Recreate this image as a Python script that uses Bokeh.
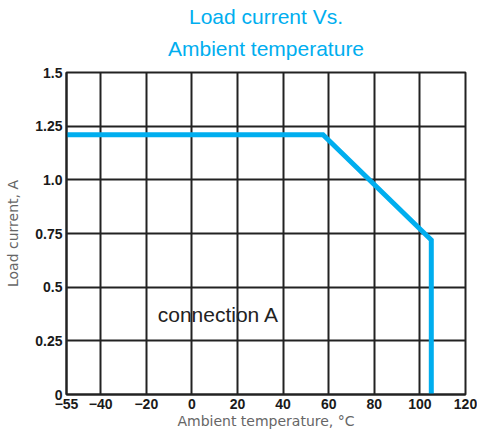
from bokeh.plotting import figure
from bokeh.models import Range1d, FixedTicker, Label, Title
from bokeh.embed import file_html
from bokeh.resources import INLINE

# Data
temperature = [-55, 57.5, 105, 105]
load_current = [1.21, 1.21, 0.72, 0.0]

x_ticks = [-55, -40, -20, 0, 20, 40, 60, 80, 100, 120]
x_tick_labels = ["\u221255", "\u221240", "\u221220", "0", "20", "40", "60", "80", "100", "120"]
y_ticks = [0, 0.25, 0.5, 0.75, 1.0, 1.25, 1.5]
y_tick_labels = ["0", "0.25", "0.5", "0.75", "1.0", "1.25", "1.5"]

title_lines = ["Load current Vs.", "Ambient temperature"]
x_title = "Ambient temperature, \u00b0C"
y_title = "Load current, A"
note = "connection A"

BLUE = "#00aeef"
GRID = "#222222"

p = figure(frame_width=399, frame_height=322,
           min_border_left=66, min_border_right=12,
           min_border_top=72, min_border_bottom=30,
           x_range=Range1d(-55, 120), y_range=Range1d(0, 1.5),
           output_backend="svg", toolbar_location=None, title=None)

p.background_fill_color = "white"
p.border_fill_color = "white"
p.outline_line_color = GRID
p.outline_line_width = 2

for ax, ticks, labels in ((p.xaxis[0], x_ticks, x_tick_labels), (p.yaxis[0], y_ticks, y_tick_labels)):
    ax.ticker = FixedTicker(ticks=ticks)
    ax.major_label_overrides = {t: l for t, l in zip(ticks, labels)}
    ax.major_tick_in = 0
    ax.major_tick_out = 0
    ax.minor_tick_in = 0
    ax.minor_tick_out = 0
    ax.axis_line_color = GRID
    ax.axis_line_width = 2
    ax.major_label_text_font = "Liberation Sans"
    ax.major_label_text_font_size = "14px"
    ax.major_label_text_font_style = "bold"
    ax.major_label_text_color = "#1a1a1a"
    ax.major_label_standoff = 4
    ax.axis_label_text_font = "DejaVu Sans"
    ax.axis_label_text_font_size = "14px"
    ax.axis_label_text_font_style = "normal"
    ax.axis_label_text_color = "#666666"

p.xaxis[0].axis_label = x_title
p.xaxis[0].axis_label_standoff = 1
p.yaxis[0].axis_label = y_title
p.yaxis[0].axis_label_standoff = 11

p.xgrid.ticker = FixedTicker(ticks=x_ticks)
p.ygrid.ticker = FixedTicker(ticks=y_ticks)
for g in (p.xgrid[0], p.ygrid[0]):
    g.grid_line_color = GRID
    g.grid_line_width = 2
    g.grid_line_alpha = 1.0

p.line(temperature, load_current, line_color=BLUE, line_width=5, line_join="miter")

# Two-line title: the first added sits closest to the frame
p.add_layout(Title(text=title_lines[1], align="center", text_color=BLUE,
                   text_font="Liberation Sans", text_font_size="21px",
                   text_font_style="normal", standoff=25, offset=0), "above")
p.add_layout(Title(text=title_lines[0], align="center", text_color=BLUE,
                   text_font="Liberation Sans", text_font_size="21px",
                   text_font_style="normal", standoff=-10, offset=0), "above")

p.add_layout(Label(x=-15, y=0.373, text=note, text_align="left", text_baseline="middle",
                   text_color="#222222", text_font="Liberation Sans", text_font_size="21px"))

open("out.html", "w").write(file_html(p, INLINE))
